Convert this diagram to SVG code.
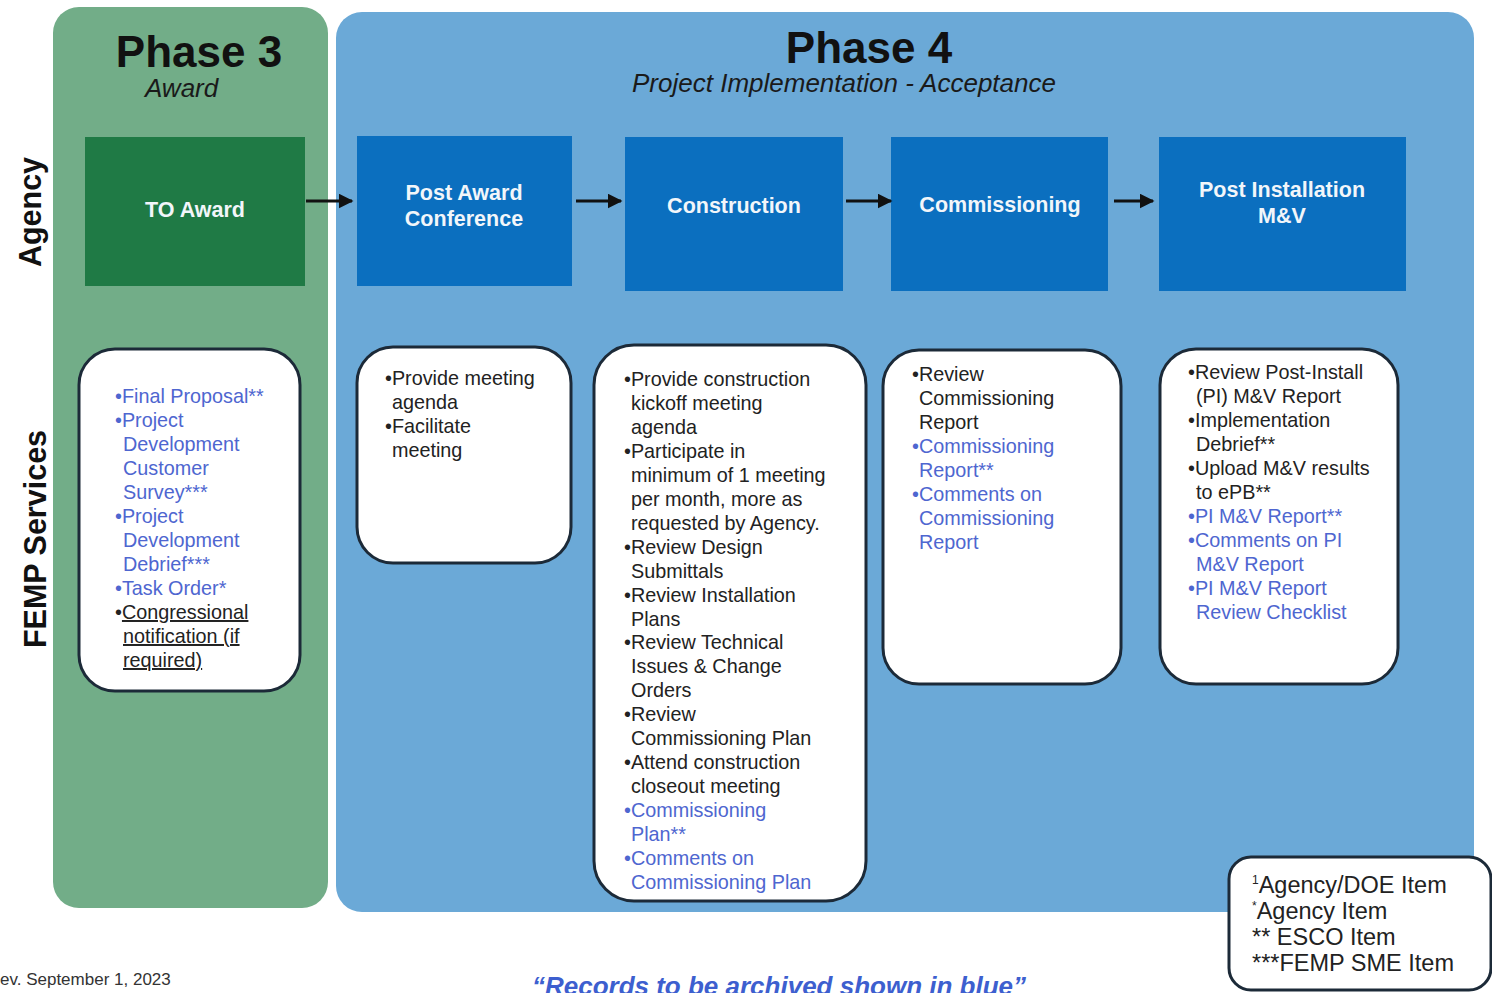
<svg xmlns="http://www.w3.org/2000/svg" width="1492" height="993" viewBox="0 0 1492 993">
<defs>
<marker id="ah" viewBox="0 0 10 10" refX="9" refY="5" markerWidth="5" markerHeight="5" orient="auto"><path d="M0,0 L10,5 L0,10 z" fill="#111"/></marker>
<style>
.phase3{fill:#72AD88}
.phase4{fill:#6BA9D7}
.agencyG{fill:#1F7A45}
.agencyB{fill:#0B6FBF}
.nlabel{font-family:"Liberation Sans",Arial,sans-serif;font-weight:bold;font-size:21.5px;fill:#F2F6FA;text-anchor:middle}
.card{fill:#FFFFFF;stroke:#1C2A38;stroke-width:3}
.t{font-family:"Liberation Sans",Arial,sans-serif;font-size:19.8px;fill:#222}
.b{fill:#4E66D0}
.title{font-family:"Liberation Sans",Arial,sans-serif;font-weight:bold;font-size:44px;fill:#111;text-anchor:middle}
.sub{font-family:"Liberation Sans",Arial,sans-serif;font-style:italic;font-size:26px;fill:#1a1a1a}
.side{font-family:"Liberation Sans",Arial,sans-serif;font-weight:bold;font-size:30.5px;fill:#111;text-anchor:middle}
.leg{font-family:"Liberation Sans",Arial,sans-serif;font-size:23.5px;fill:#222}
.conn{stroke:#111;stroke-width:3;fill:none}
</style>
</defs>
<rect width="1492" height="993" fill="#FFFFFF"/>

<g id="phase3-panel">
<rect class="phase3" x="53" y="7" width="275" height="901" rx="26"/>
<text class="title" x="199" y="67">Phase 3</text>
<text class="sub" x="145" y="97" fill="#16301f">Award</text>
</g>
<g id="phase4-panel">
<rect class="phase4" x="336" y="12" width="1138" height="900" rx="26"/>
<text class="title" x="869" y="63">Phase 4</text>
<text class="sub" x="844" y="92" text-anchor="middle">Project Implementation - Acceptance</text>
</g>

<g id="lane-labels">
<text class="side" transform="translate(41,212) rotate(-90)">Agency</text>
<text class="side" transform="translate(46,539) rotate(-90)">FEMP Services</text>
</g>

<g id="to-award">
<rect class="agencyG" x="85" y="137" width="220" height="149"/>
<text class="nlabel" x="195" y="217">TO Award</text>
</g>
<g id="post-award-conference">
<rect class="agencyB" x="357" y="136" width="215" height="150"/>
<text class="nlabel" x="464" y="200">Post Award</text>
<text class="nlabel" x="464" y="226">Conference</text>
</g>
<g id="construction">
<rect class="agencyB" x="625" y="137" width="218" height="154"/>
<text class="nlabel" x="734" y="213">Construction</text>
</g>
<g id="commissioning">
<rect class="agencyB" x="891" y="137" width="217" height="154"/>
<text class="nlabel" x="1000" y="212">Commissioning</text>
</g>
<g id="post-installation-mv">
<rect class="agencyB" x="1159" y="137" width="247" height="154"/>
<text class="nlabel" x="1282" y="197">Post Installation</text>
<text class="nlabel" x="1282" y="223">M&amp;V</text>
</g>

<g id="connectors">
<line class="conn" x1="306" y1="201" x2="352" y2="201" marker-end="url(#ah)"/>
<line class="conn" x1="576" y1="201" x2="621" y2="201" marker-end="url(#ah)"/>
<line class="conn" x1="846" y1="201" x2="891" y2="201" marker-end="url(#ah)"/>
<line class="conn" x1="1114" y1="201" x2="1153" y2="201" marker-end="url(#ah)"/>
</g>

<g id="femp-award">
<rect class="card" x="79" y="349" width="221" height="342" rx="36"/>
<text class="t b" x="115" y="403">•Final Proposal**</text>
<text class="t b" x="115" y="427">•Project</text>
<text class="t b" x="123" y="451">Development</text>
<text class="t b" x="123" y="475">Customer</text>
<text class="t b" x="123" y="499">Survey***</text>
<text class="t b" x="115" y="523">•Project</text>
<text class="t b" x="123" y="547">Development</text>
<text class="t b" x="123" y="571">Debrief***</text>
<text class="t b" x="115" y="595">•Task Order*</text>
<text class="t" x="115" y="619">•<tspan text-decoration="underline">Congressional</tspan></text>
<text class="t" x="123" y="643" text-decoration="underline">notification (if</text>
<text class="t" x="123" y="667" text-decoration="underline">required)</text>
</g>

<g id="femp-post-award">
<rect class="card" x="357" y="347" width="214" height="216" rx="36"/>
<text class="t" x="385" y="385">•Provide meeting</text>
<text class="t" x="392" y="409">agenda</text>
<text class="t" x="385" y="433">•Facilitate</text>
<text class="t" x="392" y="457">meeting</text>
</g>

<g id="femp-construction">
<rect class="card" x="594" y="345" width="272" height="556" rx="40"/>
<text class="t" x="624" y="386">•Provide construction</text>
<text class="t" x="631" y="410">kickoff meeting</text>
<text class="t" x="631" y="434">agenda</text>
<text class="t" x="624" y="458">•Participate in</text>
<text class="t" x="631" y="482">minimum of 1 meeting</text>
<text class="t" x="631" y="506">per month, more as</text>
<text class="t" x="631" y="530">requested by Agency.</text>
<text class="t" x="624" y="554">•Review Design</text>
<text class="t" x="631" y="578">Submittals</text>
<text class="t" x="624" y="602">•Review Installation</text>
<text class="t" x="631" y="626">Plans</text>
<text class="t" x="624" y="649">•Review Technical</text>
<text class="t" x="631" y="673">Issues &amp; Change</text>
<text class="t" x="631" y="697">Orders</text>
<text class="t" x="624" y="721">•Review</text>
<text class="t" x="631" y="745">Commissioning Plan</text>
<text class="t" x="624" y="769">•Attend construction</text>
<text class="t" x="631" y="793">closeout meeting</text>
<text class="t b" x="624" y="817">•Commissioning</text>
<text class="t b" x="631" y="841">Plan**</text>
<text class="t b" x="624" y="865">•Comments on</text>
<text class="t b" x="631" y="889">Commissioning Plan</text>
</g>

<g id="femp-commissioning">
<rect class="card" x="883" y="350" width="238" height="334" rx="36"/>
<text class="t" x="912" y="381">•Review</text>
<text class="t" x="919" y="405">Commissioning</text>
<text class="t" x="919" y="429">Report</text>
<text class="t b" x="912" y="453">•Commissioning</text>
<text class="t b" x="919" y="477">Report**</text>
<text class="t b" x="912" y="501">•Comments on</text>
<text class="t b" x="919" y="525">Commissioning</text>
<text class="t b" x="919" y="549">Report</text>
</g>

<g id="femp-post-install">
<rect class="card" x="1160" y="349" width="238" height="335" rx="36"/>
<text class="t" x="1188" y="379">•Review Post-Install</text>
<text class="t" x="1196" y="403">(PI) M&amp;V Report</text>
<text class="t" x="1188" y="427">•Implementation</text>
<text class="t" x="1196" y="451">Debrief**</text>
<text class="t" x="1188" y="475">•Upload M&amp;V results</text>
<text class="t" x="1196" y="499">to ePB**</text>
<text class="t b" x="1188" y="523">•PI M&amp;V Report**</text>
<text class="t b" x="1188" y="547">•Comments on PI</text>
<text class="t b" x="1196" y="571">M&amp;V Report</text>
<text class="t b" x="1188" y="595">•PI M&amp;V Report</text>
<text class="t b" x="1196" y="619">Review Checklist</text>
</g>

<g id="legend">
<rect class="card" x="1229" y="857" width="262" height="133" rx="22"/>
<text class="leg" x="1252" y="893"><tspan font-size="12" dy="-9">1</tspan><tspan dy="9">Agency/DOE  Item</tspan></text>
<text class="leg" x="1252" y="919"><tspan font-size="12" dy="-9">*</tspan><tspan dy="9">Agency Item</tspan></text>
<text class="leg" x="1252" y="945">** ESCO Item</text>
<text class="leg" x="1252" y="971">***FEMP SME Item</text>
</g>

<g id="footer">
<text x="0" y="985" font-family="'Liberation Sans',Arial,sans-serif" font-size="17" fill="#333">ev. September 1, 2023</text>
<text x="779" y="995" text-anchor="middle" font-family="'Liberation Sans',Arial,sans-serif" font-style="italic" font-weight="bold" font-size="26" fill="#3D5FCF">“Records to be archived shown in blue”</text>
</g>
</svg>
